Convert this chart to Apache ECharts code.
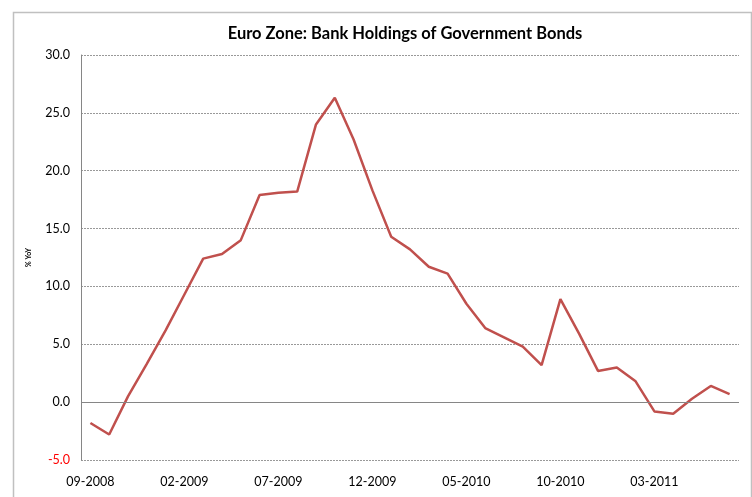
<!DOCTYPE html>
<html>
<head>
<meta charset="utf-8">
<script src="https://cdn.jsdelivr.net/npm/echarts@6/dist/echarts.min.js"></script>
<style>html,body{margin:0;padding:0;background:#fff}#c{width:752px;height:497px}</style>
</head>
<body>
<div id="c"></div>
<script>
var months = ['09-2008','10-2008','11-2008','12-2008','01-2009','02-2009','03-2009','04-2009','05-2009','06-2009','07-2009','08-2009','09-2009','10-2009','11-2009','12-2009','01-2010','02-2010','03-2010','04-2010','05-2010','06-2010','07-2010','08-2010','09-2010','10-2010','11-2010','12-2010','01-2011','02-2011','03-2011','04-2011','05-2011','06-2011','07-2011'];
var yoy = [-1.8,-2.8,0.5,3.3,6.2,9.3,12.4,12.8,14.0,17.9,18.1,18.2,24.0,26.3,22.7,18.3,14.3,13.2,11.7,11.1,8.5,6.4,5.6,4.8,3.2,8.9,5.9,2.7,3.0,1.8,-0.8,-1.0,0.3,1.4,0.7];
var yTicks = [-5,0,5,10,15,20,25,30];
var titleText = 'Euro Zone: Bank Holdings of Government Bonds';
var yName = '% YoY';

var chart = echarts.init(document.getElementById('c'), null, {renderer:'canvas'});
var font = 'Lato, "Open Sans", sans-serif';
chart.setOption({
  animation: false,
  backgroundColor: '#fff',
  graphic: [{
    type: 'rect', left: 11, top: 10, shape: {width: 738, height: 500},
    style: {fill: 'none', stroke: '#c0c0c0', lineWidth: 1.5}, silent: true
  }],
  title: {
    text: titleText, left: 400, top: 20, textAlign: 'center',
    textStyle: {fontFamily: font, fontWeight: 'bold', fontSize: 16.5, color: '#000'}
  },
  grid: {left: 81, right: 13, top: 55, bottom: 37, containLabel: false},
  xAxis: [{
    type: 'category', data: months, boundaryGap: true,
    axisLine: {show: false, onZero: false},
    axisTick: {show: false},
    axisLabel: {interval: 4, margin: 15, fontFamily: font, fontSize: 12.5, color: '#000'},
    splitLine: {show: false}
  }],
  yAxis: {
    type: 'value', min: yTicks[0], max: yTicks[yTicks.length-1], interval: 5,
    name: yName, nameLocation: 'middle', nameRotate: 90, nameGap: 49,
    nameTextStyle: {fontFamily: font, fontSize: 7, fontWeight: 'bold', color: '#000'},
    axisLine: {show: true, lineStyle: {color: '#868686', width: 1}},
    axisTick: {show: false},
    axisLabel: {
      margin: 11, fontFamily: font, fontSize: 12.5, color: '#000',
      formatter: function (v) { return v < 0 ? '{r|' + v.toFixed(1) + '}' : v.toFixed(1); },
      rich: {r: {color: '#ff0000', fontFamily: font, fontSize: 12.5}}
    },
    splitLine: {show: true, lineStyle: {color: '#999', type: [2, 1], width: 1}}
  },
  series: [{
    type: 'line', data: yoy, symbol: 'none',
    lineStyle: {color: '#C0504D', width: 2.5},
    itemStyle: {color: '#C0504D'},
    markLine: {
      silent: true, symbol: ['none', 'none'], label: {show: false},
      lineStyle: {color: '#868686', type: 'solid', width: 1},
      data: [{yAxis: 0}]
    },
    z: 3
  }]
});
</script>
</body>
</html>
